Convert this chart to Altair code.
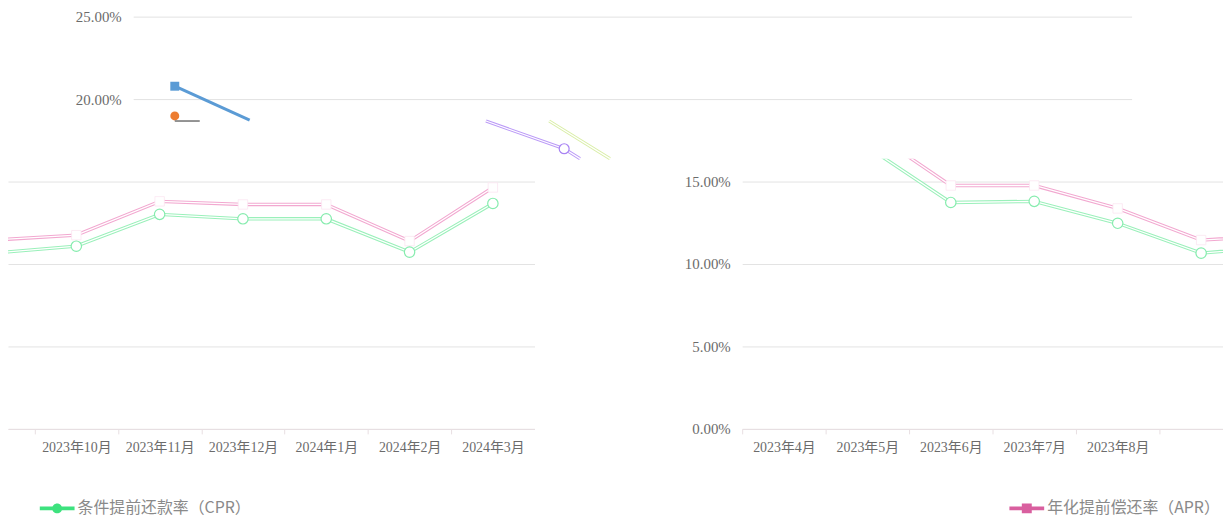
import altair as alt
import pandas as pd

# ---------------- data ----------------
months = ["2023年4月", "2023年5月", "2023年6月", "2023年7月", "2023年8月", "2023年9月",
          "2023年10月", "2023年11月", "2023年12月", "2024年1月", "2024年2月", "2024年3月"]
month_index = [4, 5, 6, 7, 8, 9, 10, 11, 12, 13, 14, 15]
cpr = [18.98, 17.10, 13.73, 13.80, 12.47, 10.66, 11.08, 13.01, 12.74, 12.74, 10.72, 13.67]
apr = [20.78, 18.20, 14.76, 14.76, 13.37, 11.45, 11.75, 13.80, 13.61, 13.61, 11.39, 14.64]
CPR_NAME = "条件提前还款率（CPR）"
APR_NAME = "年化提前偿还率（APR）"

# remnants of an earlier animation frame visible in the upper strip
frame_apr_x = [4.0, 4.9]
frame_apr_y = [20.78, 18.73]
frame_cpr_x = [4.0]
frame_cpr_y = [18.98]
frame_stub_x = [4.0, 4.3]
frame_stub_y = [18.67, 18.67]
ghost_purple_x = [7.74, 8.68, 8.87]
ghost_purple_y = [18.67, 16.99, 16.39]
ghost_yellow_x = [8.50, 9.23]
ghost_yellow_y = [18.67, 16.39]

y_ticks_top = [20, 25]
y_ticks_bottom = [0, 5, 10, 15]

# ---------------- styling ----------------
SERIF = "'Liberation Serif', 'Noto Sans CJK SC'"
CJK = "'Noto Sans CJK SC'"
LABEL = "#6b6b6b"
GRID = "#e3e3e3"
AXISLINE = "#e8dfe2"
Y_SPLIT = 16.386

df = pd.DataFrame({"idx": month_index, "month": months, "cpr": cpr, "apr": apr})
months_js = "[" + ",".join("'" + m + "'" for m in months) + "]"


def x_label_expr(last):
    return (f"(datum.value + 0.5 >= 4 && datum.value + 0.5 <= {last}) ? "
            f"{months_js}[datum.value + 0.5 - 4] : ''")


pct_expr = "format(datum.value, '.2f') + '%'"


def panel(domain, width, tick_values, last_label, show_y_labels, legend_name,
          legend_color, legend_shape, legend_x, idx_lo, idx_hi):
    xs = alt.Scale(domain=domain, nice=False, zero=False)
    ys = alt.Scale(domain=[0, Y_SPLIT], nice=False, zero=False)
    xaxis = alt.Axis(values=tick_values, labelExpr=x_label_expr(last_label), labelOffset=42,
                     grid=False, domainColor=AXISLINE, tickColor=AXISLINE, tickSize=5,
                     labelPadding=7, labelFont=SERIF, labelFontSize=14, labelColor=LABEL,
                     labelFlush=False, labelOverlap=False, labelBound=False, title=None)
    if show_y_labels:
        yaxis = alt.Axis(values=y_ticks_bottom, labelExpr=pct_expr, grid=True, gridColor=GRID,
                         domain=False, ticks=False, labelPadding=12, labelFont=SERIF,
                         labelFontSize=15, labelColor=LABEL, title=None, labelFlush=False)
    else:
        yaxis = alt.Axis(values=y_ticks_bottom, labels=False, grid=True, gridColor=GRID,
                         domain=False, ticks=False, title=None)
    base = alt.Chart(df).transform_filter(
        f"datum.idx >= {idx_lo} && datum.idx <= {idx_hi}")
    X = alt.X("idx:Q", scale=xs, axis=xaxis)
    apr_outer = base.mark_line(color="#f2a8d0", strokeWidth=3.4, clip=True).encode(
        x=X, y=alt.Y("apr:Q", scale=ys, axis=yaxis))
    apr_inner = base.mark_line(color="#ffffff", strokeWidth=1.3, clip=True).encode(
        x=X, y=alt.Y("apr:Q", scale=ys, axis=yaxis))
    cpr_outer = base.mark_line(color="#9af0ba", strokeWidth=3.4, clip=True).encode(
        x=X, y=alt.Y("cpr:Q", scale=ys, axis=yaxis))
    cpr_inner = base.mark_line(color="#ffffff", strokeWidth=1.3, clip=True).encode(
        x=X, y=alt.Y("cpr:Q", scale=ys, axis=yaxis))
    apr_pts = base.mark_point(shape="square", filled=True, fill="#ffffff", stroke="#fbe6f1",
                              strokeWidth=0.8, size=90, opacity=1, clip=True).encode(
        x=X, y=alt.Y("apr:Q", scale=ys, axis=yaxis))
    cpr_pts = base.mark_point(shape="circle", filled=True, fill="#ffffff", stroke="#86ecae",
                              strokeWidth=1.2, size=110, opacity=1, clip=True).encode(
        x=X, y=alt.Y("cpr:Q", scale=ys, axis=yaxis))
    if legend_shape == "circle":
        sym = "M-3.5,-0.4H3.5V0.4H-3.5Z M1,0A1,1 0 1,1 -1,0A1,1 0 1,1 1,0Z"
    else:
        sym = "M-3.5,-0.4H3.5V0.4H-3.5Z M-1,-1H1V1H-1Z"
    leg_df = pd.DataFrame({"name": [legend_name], "idx": [domain[0]], "v": [1.0]})
    leg = alt.Chart(leg_df).mark_point(filled=True, size=0, opacity=1).encode(
        x=alt.X("idx:Q", scale=xs, axis=xaxis), y=alt.Y("v:Q", scale=ys, axis=yaxis),
        color=alt.Color("name:N",
                        scale=alt.Scale(domain=[legend_name], range=[legend_color]),
                        legend=alt.Legend(orient="none", legendX=legend_x, legendY=344,
                                          title=None, symbolType=sym, symbolSize=100,
                                          symbolStrokeWidth=0, labelFont=CJK,
                                          labelFontSize=16, labelColor="#8a8a8a",
                                          labelOffset=12.5, labelLimit=400, padding=0)))
    return alt.layer(apr_outer, apr_inner, cpr_outer, cpr_inner, apr_pts, cpr_pts, leg).properties(
        width=width, height=272)


# ---------------- upper strip ----------------
xs_top = alt.Scale(domain=[3.5, 15.5], nice=False, zero=False)
ys_top = alt.Scale(domain=[Y_SPLIT, 25], nice=False, zero=False)
top_axis = alt.Axis(values=y_ticks_top, labelExpr=pct_expr, grid=True, gridColor=GRID,
                    domain=False, ticks=False, labelPadding=12, labelFont=SERIF,
                    labelFontSize=15, labelColor=LABEL, title=None, labelFlush=False)

blue_df = pd.DataFrame({"x": frame_apr_x, "y": frame_apr_y})
orange_df = pd.DataFrame({"x": frame_cpr_x, "y": frame_cpr_y})
stub_df = pd.DataFrame({"x": frame_stub_x, "y": frame_stub_y})
purple_df = pd.DataFrame({"x": ghost_purple_x, "y": ghost_purple_y})
yellow_df = pd.DataFrame({"x": ghost_yellow_x, "y": ghost_yellow_y})

TX = alt.X("x:Q", scale=xs_top, axis=None)
TY = alt.Y("y:Q", scale=ys_top, axis=top_axis)

blue_line = alt.Chart(blue_df).mark_line(color="#5b9bd5", strokeWidth=3, clip=True).encode(
    x=TX, y=TY)
blue_pt = alt.Chart(blue_df.iloc[:1]).mark_point(shape="square", filled=True, color="#5b9bd5",
                                                 size=81, opacity=1).encode(x=TX, y=TY)
orange_pt = alt.Chart(orange_df).mark_point(shape="circle", filled=True, color="#ed7d31",
                                            size=81, opacity=1).encode(x=TX, y=TY)
stub = alt.Chart(stub_df).mark_line(color="#707070", strokeWidth=1.5).encode(x=TX, y=TY)
purple_o = alt.Chart(purple_df).mark_line(color="#bb9af7", strokeWidth=3.2).encode(x=TX, y=TY)
purple_i = alt.Chart(purple_df).mark_line(color="#ffffff", strokeWidth=1.2).encode(x=TX, y=TY)
purple_pt = alt.Chart(purple_df.iloc[1:2]).mark_point(shape="circle", filled=True, fill="#ffffff",
                                                      stroke="#a883f3", strokeWidth=1.2,
                                                      size=100, opacity=1).encode(x=TX, y=TY)
yellow_o = alt.Chart(yellow_df).mark_line(color="#d9eea6", strokeWidth=3.2).encode(x=TX, y=TY)
yellow_i = alt.Chart(yellow_df).mark_line(color="#ffffff", strokeWidth=1.2).encode(x=TX, y=TY)

top = alt.layer(blue_line, blue_pt, orange_pt, stub, purple_o, purple_i, purple_pt,
                yellow_o, yellow_i).properties(width=1005, height=143)

spacer_df = pd.DataFrame({"v": [0.0]})
spacer = alt.Chart(spacer_df).mark_point(size=0, opacity=0).encode(
    x=alt.X("v:Q", axis=None), y=alt.Y("v:Q", axis=None)).properties(width=126, height=143)

top_row = alt.hconcat(spacer, top, spacing=0, bounds="flush")

# ---------------- lower strip (two panels) ----------------
left = panel([9.18, 15.5], 530, [9.5, 10.5, 11.5, 12.5, 13.5, 14.5], 15, False,
             CPR_NAME, "#3de27e", "circle", 41.5, 9, 15)
right = panel([3.5, 9.262], 484, [3.5, 4.5, 5.5, 6.5, 7.5, 8.5], 8, True,
              APR_NAME, "#d95f9f", "square", 278.5, 5, 10)

bottom = alt.hconcat(left, right, spacing=209, bounds="flush").resolve_scale(color="independent")

# the nested upper row contributes no height to a flush layout, so the spacing equals its height
chart = alt.vconcat(top_row, bottom, spacing=143, bounds="flush").resolve_scale(
    color="independent").properties(padding=0).configure_view(strokeWidth=0)

chart.save("out.html", embed_options={"renderer": "svg", "actions": False})
